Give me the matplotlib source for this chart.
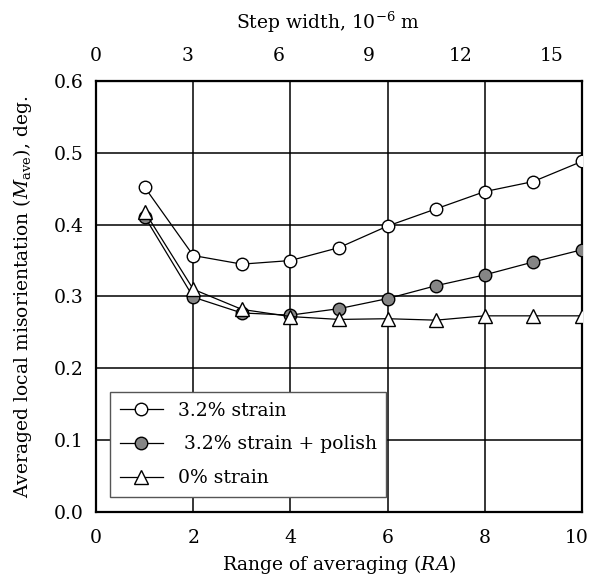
import matplotlib
matplotlib.use("Agg")
import matplotlib.pyplot as plt
import matplotlib.transforms as mtrans

plt.rcParams['font.family'] = ['DejaVu Serif']
plt.rcParams['mathtext.fontset'] = 'dejavuserif'

ra = [1, 2, 3, 4, 5, 6, 7, 8, 9, 10]
strain = [0.452, 0.357, 0.345, 0.350, 0.368, 0.398, 0.422, 0.446, 0.460, 0.488]
strain_polish = [0.411, 0.299, 0.277, 0.274, 0.283, 0.297, 0.315, 0.330, 0.348, 0.365]
no_strain = [0.418, 0.310, 0.282, 0.272, 0.268, 0.269, 0.267, 0.273, 0.273, 0.273]

xticks = [0, 2, 4, 6, 8, 10]
yticks = [0.0, 0.1, 0.2, 0.3, 0.4, 0.5, 0.6]
top_ticks = [0, 3, 6, 9, 12, 15]
step_per_ra = 1.6

fig = plt.figure(figsize=(5.9, 5.83), dpi=100)
ax = fig.add_axes([0.163, 0.122, 0.823, 0.739])

ax.plot(ra, strain, '-o', color='black', lw=0.9, ms=9, mfc='white',
        mec='black', mew=1.0, label='3.2% strain', zorder=3)
ax.plot(ra, strain_polish, '-o', color='black', lw=0.9, ms=9, mfc='#858585',
        mec='black', mew=1.0, label=' 3.2% strain + polish', zorder=3)
ax.plot(ra, no_strain, '-^', color='black', lw=0.9, ms=10, mfc='white',
        mec='black', mew=1.0, label='0% strain', zorder=4)

ax.set_xlim(0, 10)
ax.set_ylim(0, 0.6)
ax.set_xticks(xticks)
ax.set_yticks(yticks)
ax.set_yticklabels([f'{v:.1f}' for v in yticks])
ax.tick_params(axis='x', length=0, labelsize=13.5, pad=12)
ax.tick_params(axis='y', length=0, labelsize=13.5, pad=9)
ax.grid(True, color='black', lw=1.1)
for s in ax.spines.values():
    s.set_linewidth(1.6)

# last bottom label sits right at the figure edge, nudge it in a bit
last = ax.get_xticklabels()[-1]
last.set_transform(last.get_transform() + mtrans.ScaledTranslation(-5 / 100, 0, fig.dpi_scale_trans))

ax.set_xlabel('Range of averaging ($\\it{RA}$)', fontsize=13.5, labelpad=5)
ax.set_ylabel('Averaged local misorientation ($M_{\\rm ave}$), deg.', fontsize=13.5, labelpad=14)

sec = ax.secondary_xaxis('top', functions=(lambda x: x * step_per_ra, lambda x: x / step_per_ra))
sec.set_xticks(top_ticks)
sec.tick_params(length=0, labelsize=13.5, pad=11.5)
sec.set_xlabel('Step width, 10$^{-6}$ m', fontsize=13.5, labelpad=13)
sec.xaxis.label.set_x(0.477)

leg = ax.legend(loc='lower left', bbox_to_anchor=(0.029, 0.035), fontsize=13.5,
                frameon=True, fancybox=False, edgecolor='#555555',
                handlelength=2.3, handletextpad=0.8, borderpad=0.5,
                labelspacing=0.85, borderaxespad=0)
leg.get_frame().set_linewidth(1.0)
leg.get_frame().set_alpha(1)

fig.savefig('out.png', dpi=100)
